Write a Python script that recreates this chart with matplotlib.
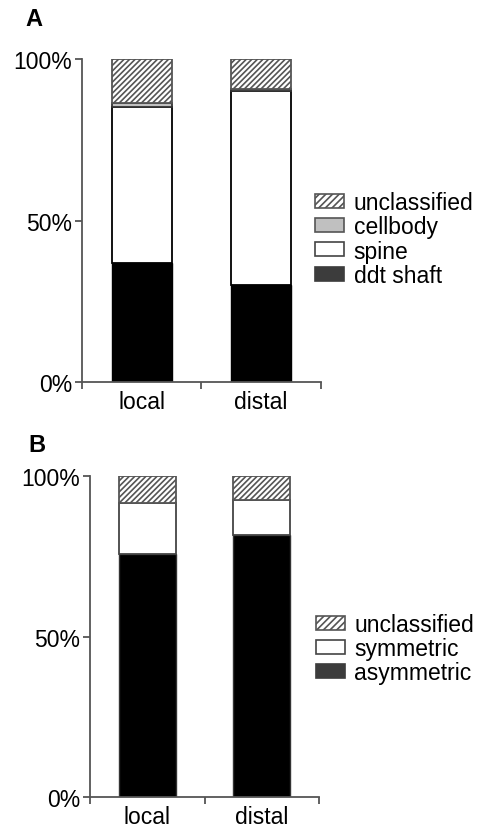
import numpy as np
import matplotlib.pyplot as plt
from matplotlib.patches import Patch

plt.rcParams['font.family'] = ['Liberation Sans', 'DejaVu Sans']
plt.rcParams['hatch.linewidth'] = 1.2

groups = ['local', 'distal']

# synapse location (%)
a_labels = ['ddt shaft', 'spine', 'cellbody', 'unclassified']
a_shaft = [36.9, 30.1]
a_spine = [48.2, 60.1]
a_cellbody = [1.2, 0.4]
a_unclass = [13.7, 9.4]

# synapse type (%)
b_labels = ['asymmetric', 'symmetric', 'unclassified']
b_asym = [75.8, 81.5]
b_sym = [15.9, 10.9]
b_unclass = [8.3, 7.6]

axcol = '#555555'
fs = 16.5

fig = plt.figure(figsize=(4.79, 8.28), dpi=100)
axA = fig.add_axes([0.171, 0.5374, 0.499, 0.3901])
axB = fig.add_axes([0.188, 0.0362, 0.478, 0.3877])

x = np.array([0.5, 1.5])
w = 0.5

def style(ax):
    ax.set_xlim(0, 2)
    ax.set_ylim(0, 100)
    for s in ['top', 'right']:
        ax.spines[s].set_visible(False)
    for s in ['left', 'bottom']:
        ax.spines[s].set_color(axcol)
        ax.spines[s].set_linewidth(1.3)
    ax.set_yticks([0, 50, 100])
    ax.set_yticklabels(['0%', '50%', '100%'])
    ax.set_xticks([0, 1, 2])
    ax.set_xticklabels([])
    ax.set_xticks(x, minor=True)
    ax.set_xticklabels(groups, minor=True)
    ax.tick_params(axis='x', which='minor', length=0, labelsize=fs, pad=6)
    ax.tick_params(axis='both', which='major', color=axcol, width=1.3, length=5, labelsize=fs)
    ax.tick_params(axis='y', pad=2)

leg_kw = dict(loc='center left', frameon=False, fontsize=fs, handlelength=1.27,
              handleheight=0.57, handletextpad=0.42, labelspacing=0.05,
              borderaxespad=0, borderpad=0)

# panel A
bottom = np.zeros(2)
axA.bar(x, a_shaft, w, bottom=bottom, color='black', edgecolor='black', lw=1)
bottom += a_shaft
axA.bar(x, a_spine, w, bottom=bottom, color='white', edgecolor='black', lw=1.3)
bottom += a_spine
axA.bar(x, a_cellbody, w, bottom=bottom, color='#c0c0c0', edgecolor='#333333', lw=1.3)
bottom += a_cellbody
axA.bar(x, a_unclass, w, bottom=bottom, color='white', edgecolor='#555555', hatch='//////', lw=1.3)
style(axA)

hA = [Patch(facecolor='white', edgecolor='#555555', hatch='/////', lw=1.2),
      Patch(facecolor='#c0c0c0', edgecolor='#555555', lw=1.2),
      Patch(facecolor='white', edgecolor='#444444', lw=1.2),
      Patch(facecolor='#3c3c3c', edgecolor='#3c3c3c', lw=1.2)]
axA.legend(hA, a_labels[::-1], bbox_to_anchor=(0.975, 0.443), **leg_kw)

# panel B
bottom = np.zeros(2)
axB.bar(x, b_asym, w, bottom=bottom, color='black', edgecolor='#333333', lw=1)
bottom += b_asym
axB.bar(x, b_sym, w, bottom=bottom, color='white', edgecolor='#444444', lw=1.3)
bottom += b_sym
axB.bar(x, b_unclass, w, bottom=bottom, color='white', edgecolor='#555555', hatch='//////', lw=1.3)
style(axB)

hB = [Patch(facecolor='white', edgecolor='#555555', hatch='/////', lw=1.2),
      Patch(facecolor='white', edgecolor='#444444', lw=1.2),
      Patch(facecolor='#3c3c3c', edgecolor='#3c3c3c', lw=1.2)]
axB.legend(hB, b_labels[::-1], bbox_to_anchor=(0.985, 0.462), **leg_kw)

fig.text(25 / 479, 1 - 20 / 828, 'A', fontsize=17, fontweight='bold', va='center')
fig.text(28 / 479, 1 - 446 / 828, 'B', fontsize=17, fontweight='bold', va='center')

fig.savefig('out.png', dpi=100)
